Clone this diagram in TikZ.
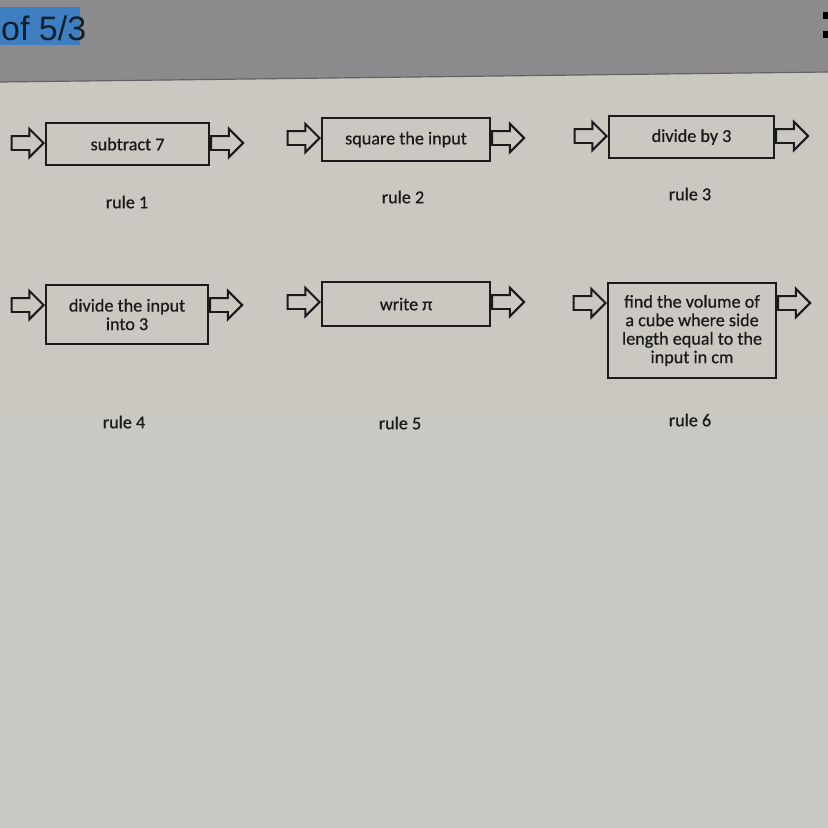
\documentclass[tikz,border=0pt]{standalone}
\usepackage{fontspec}
\setmainfont{Carlito}
\newfontfamily\boxfont[FakeBold=0.6]{Carlito}
\newfontfamily\barfont{Liberation Sans}
\usetikzlibrary{positioning,shapes.arrows}
\definecolor{paper}{HTML}{CBC8C1}
\definecolor{paperlow}{HTML}{C9C8C2}
\definecolor{bar}{HTML}{8C8A8D}
\definecolor{hilite}{HTML}{3D7FC1}
\definecolor{ink}{HTML}{1A1A1A}

\begin{document}
\begin{tikzpicture}[x=0.03cm, y=-0.03cm, every node/.style={font=\boxfont\fontsize{15.5}{15.8}\selectfont, text=ink}]
  \tikzset{
    rulebox/.style={draw=ink, line width=1.8pt, fill=paper, anchor=north west, align=center, inner sep=1pt},
    flowarrow/.style={single arrow, draw=ink, line width=1.7pt, fill=paper, inner xsep=0pt, inner ysep=0.18cm,
      minimum height=0.96cm, single arrow head extend=0.22cm, single arrow tip angle=90},
    rulelabel/.style={inner sep=1pt}
  }
  \useasboundingbox (0,0) rectangle (828,828);
  \clip (0,0) rectangle (828,828);
  % screen background
  \shade[top color=paper, bottom color=paperlow] (0,0) rectangle (828,828);
  \fill[bar] (0,0) -- (828,0) -- (828,72) -- (0,82) -- cycle;
  \draw[bar!70!black, line width=1pt] (0,82) -- (828,72);
  \fill[hilite] (0,7) rectangle (80,45);
  \node[anchor=base west, inner sep=0pt, font=\barfont\fontsize{29}{29}\selectfont, text=hilite!25!black] (page) at (1,40) {of 5/3};
  \fill[black] (823,12) rectangle (828,19);
  \fill[black] (823,31) rectangle (828,38);

  % rule boxes
  \node[rulebox, minimum width=4.89cm, minimum height=1.26cm] (b1) at (45,122) {subtract 7};
  \node[rulebox, minimum width=5.04cm, minimum height=1.29cm] (b2) at (321,117) {square the input};
  \node[rulebox, minimum width=4.95cm, minimum height=1.26cm] (b3) at (608,115) {divide by 3};
  \node[rulebox, minimum width=4.86cm, minimum height=1.77cm] (b4) at (45,284) {divide the input\\into 3};
  \node[rulebox, minimum width=5.04cm, minimum height=1.32cm] (b5) at (321,281) {write π};
  \node[rulebox, minimum width=5.04cm, minimum height=2.85cm] (b6) at (607,282) {find the volume of\\a cube where side\\length equal to the\\input in cm};

  % in and out arrows
  \foreach \b in {1,...,6} {
    \node[flowarrow, anchor=tip] (in\b) at ([yshift=-0.63cm]b\b.north west) {};
    \node[flowarrow, anchor=tail] (out\b) at ([yshift=-0.63cm]b\b.north east) {};
  }

  % labels
  \node[rulelabel] (r1) at (127,202) {rule 1};
  \node[rulelabel] (r2) at (403,197) {rule 2};
  \node[rulelabel] (r3) at (690,194) {rule 3};
  \node[rulelabel] (r4) at (124,422) {rule 4};
  \node[rulelabel] (r5) at (400,423) {rule 5};
  \node[rulelabel] (r6) at (690,420) {rule 6};
\end{tikzpicture}
\end{document}
